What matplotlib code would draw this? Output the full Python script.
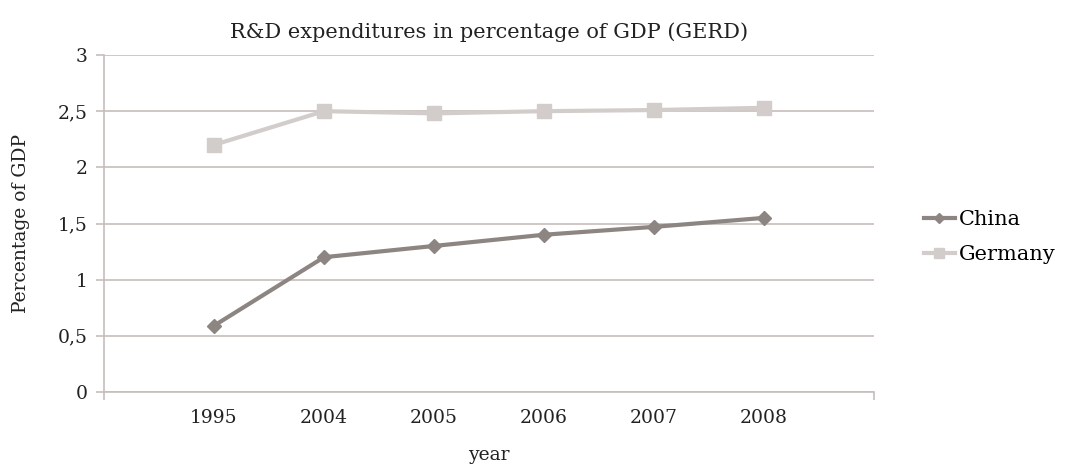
import matplotlib.pyplot as plt
from matplotlib.ticker import FuncFormatter, FixedLocator

# data
years = ["1995", "2004", "2005", "2006", "2007", "2008"]
china = [0.59, 1.20, 1.30, 1.40, 1.47, 1.55]
germany = [2.20, 2.50, 2.48, 2.50, 2.51, 2.53]

c_china = "#8c8582"
c_germany = "#d2cdcb"
c_grid = "#c6bebb"

plt.rcParams["font.family"] = ["DejaVu Serif"]

fig = plt.figure(figsize=(10.81, 4.66), dpi=100)
ax = fig.add_axes([104 / 1081, 1 - 392 / 466, 770 / 1081, 337 / 466])

x = list(range(len(years)))
ax.plot(x, china, color=c_china, lw=3, marker="D", ms=7, label="China")
ax.plot(x, germany, color=c_germany, lw=3, marker="s", ms=10, label="Germany")

ax.set_xlim(-1, len(years))
ax.set_ylim(0, 3)
ax.set_yticks([0, 0.5, 1, 1.5, 2, 2.5, 3])
ax.yaxis.set_major_formatter(FuncFormatter(lambda v, p: f"{v:g}".replace(".", ",")))
ax.set_xticks(x)
ax.set_xticklabels(years)
ax.xaxis.set_minor_locator(FixedLocator([-1] + x + [len(years)]))
ax.tick_params(axis="x", which="major", length=0, labelsize=13.5, pad=12, colors="#222222")
ax.tick_params(axis="x", which="minor", length=6, width=1.2, color=c_grid, direction="out")
ax.tick_params(axis="y", length=6, width=1.2, color=c_grid, labelsize=13.5, pad=6, colors="#222222")
ax.grid(axis="y", color=c_grid, lw=1.2)
ax.set_axisbelow(True)
for s in ["top", "right"]:
    ax.spines[s].set_visible(False)
ax.spines["left"].set_color(c_grid)
ax.spines["bottom"].set_color(c_grid)
ax.spines["left"].set_linewidth(1.2)
ax.spines["bottom"].set_linewidth(1.2)

ax.set_title("R&D expenditures in percentage of GDP (GERD)", fontsize=15, color="#222222", pad=12)
ax.set_ylabel("Percentage of GDP", fontsize=13.5, color="#222222", labelpad=20)
ax.set_xlabel("year", fontsize=13.5, color="#222222", labelpad=14)

ax.legend(loc="center left", bbox_to_anchor=(1.04, 0.46), frameon=False, fontsize=15,
          handlelength=1.5, handletextpad=0.2, labelspacing=0.75, markerscale=0.7)

fig.savefig("out.png", dpi=100)
